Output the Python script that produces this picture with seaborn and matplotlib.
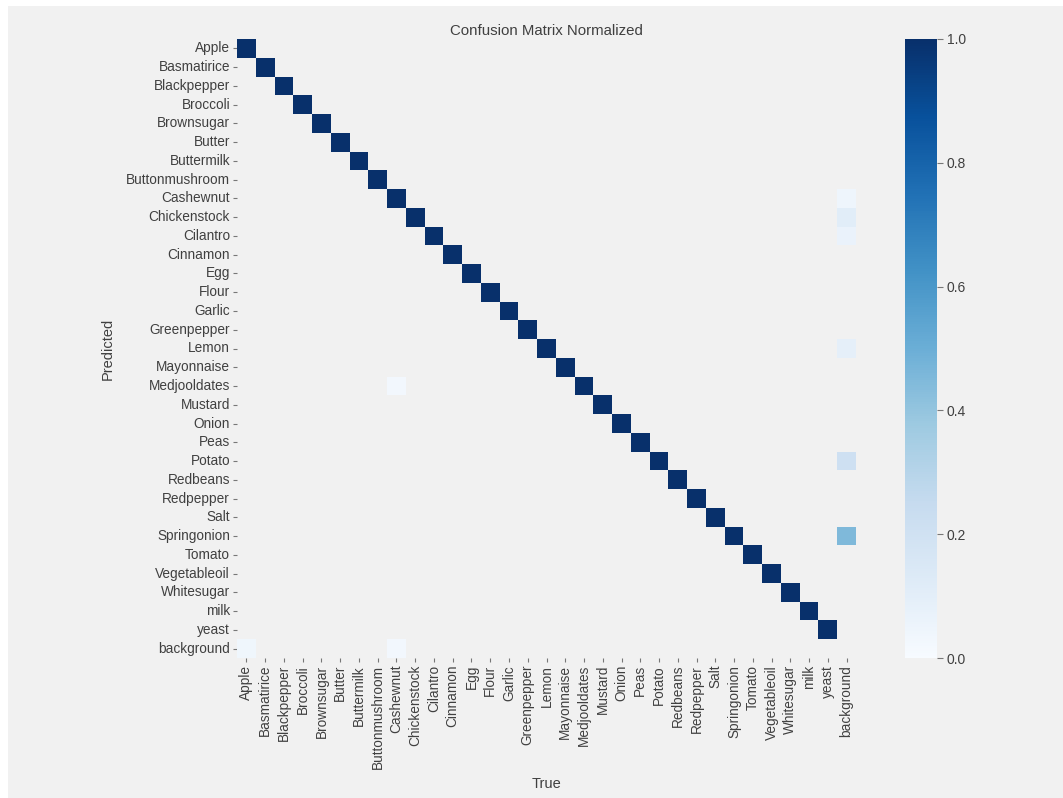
import numpy as np
import pandas as pd
import seaborn as sns
import matplotlib
matplotlib.use("Agg")
import matplotlib.pyplot as plt
from matplotlib.patches import Rectangle

# Class names (rows = predicted, columns = true)
classes = ["Apple", "Basmatirice", "Blackpepper", "Broccoli", "Brownsugar", "Butter",
           "Buttermilk", "Buttonmushroom", "Cashewnut", "Chickenstock", "Cilantro",
           "Cinnamon", "Egg", "Flour", "Garlic", "Greenpepper", "Lemon", "Mayonnaise",
           "Medjooldates", "Mustard", "Onion", "Peas", "Potato", "Redbeans", "Redpepper",
           "Salt", "Springonion", "Tomato", "Vegetableoil", "Whitesugar", "milk", "yeast",
           "background"]

# Diagonal values (correct predictions), one per real class
diag_values = [1.0] * 32

# Off-diagonal entries: (predicted, true, value)
off_pred = ["background", "background", "Medjooldates",
            "Cashewnut", "Chickenstock", "Cilantro", "Lemon", "Potato", "Springonion"]
off_true = ["Apple", "Cashewnut", "Cashewnut",
            "background", "background", "background", "background", "background", "background"]
off_vals = [0.04, 0.03, 0.03,
            0.05, 0.11, 0.07, 0.09, 0.21, 0.45]

n = len(classes)
mat = pd.DataFrame(np.zeros((n, n)), index=classes, columns=classes)
for i, v in enumerate(diag_values):
    mat.iloc[i, i] = v
for p, t, v in zip(off_pred, off_true, off_vals):
    mat.loc[p, t] = v
mat = mat.where(mat >= 0.005)

sns.set_theme(style="white")
plt.rcParams["font.family"] = ["Liberation Sans", "DejaVu Sans"]

bg = "#f1f1f1"
W, H = 1063, 798
fig = plt.figure(figsize=(W / 100, H / 100), dpi=100, facecolor=bg)
fig.patches.append(Rectangle((0, 0), 8 / W, 1, transform=fig.transFigure,
                             facecolor="white", edgecolor="none", zorder=-1))
fig.patches.append(Rectangle((0, 1 - 6 / H), 1, 6 / H, transform=fig.transFigure,
                             facecolor="white", edgecolor="none", zorder=-1))

ax = fig.add_axes([237 / W, (H - 658) / H, 619 / W, 619 / H])
cax = fig.add_axes([905 / W, (H - 658) / H, 32 / W, 619 / H])

sns.heatmap(mat, ax=ax, cbar_ax=cax, cmap="Blues", vmin=0.0, vmax=1.0,
            square=True, xticklabels=classes, yticklabels=classes)
ax.set_facecolor(bg)
for s in ax.spines.values():
    s.set_visible(False)

text_color = "#404040"
ax.tick_params(axis="both", which="major", length=3, width=0.8, color="#777777",
               labelsize=9.8, labelcolor=text_color, pad=2,
               bottom=True, left=True)
ax.set_xticklabels(classes, rotation=90)
ax.set_yticklabels(classes, rotation=0)

ax.set_title("Confusion Matrix Normalized", fontsize=10.8, color=text_color, pad=3)
ax.set_xlabel("True", fontsize=10.5, color=text_color)
ax.set_ylabel("Predicted", fontsize=10.5, color=text_color)
ax.xaxis.set_label_coords(0.5, -0.193)
ax.yaxis.set_label_coords(-0.197, 0.5)

cax.tick_params(length=4, width=0.8, color="#777777", labelsize=10,
                labelcolor=text_color, pad=3, right=True)
cax.set_yticks([0.0, 0.2, 0.4, 0.6, 0.8, 1.0])
cax.set_yticklabels(["0.0", "0.2", "0.4", "0.6", "0.8", "1.0"])
for s in cax.spines.values():
    s.set_visible(False)

fig.savefig("out.png", dpi=100, facecolor=fig.get_facecolor())
